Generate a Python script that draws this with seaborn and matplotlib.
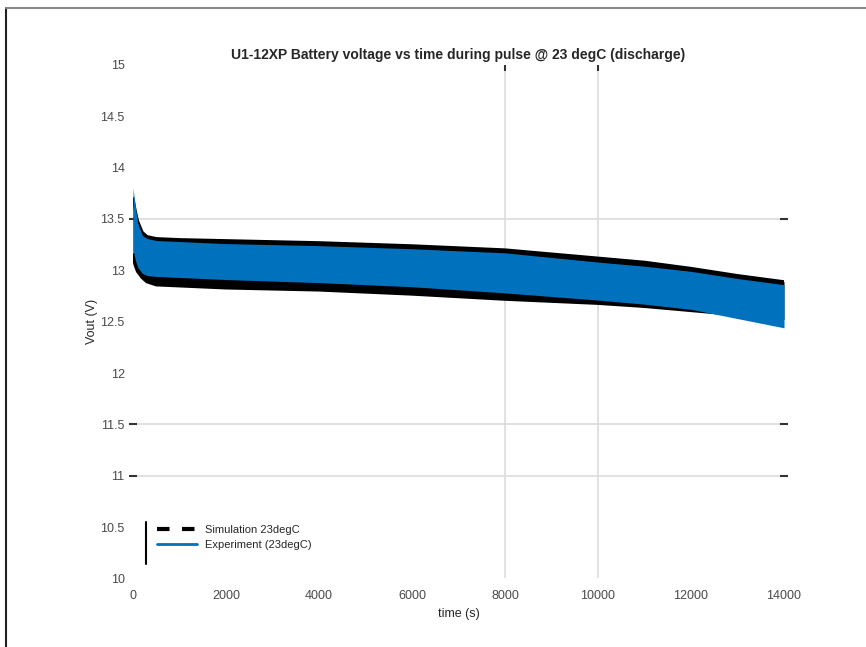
"""
Pulse discharge of the U1-12XP battery at 23 degC: simulation vs experiment.
The pulse trains are shown as filled bands between their upper and lower
voltage envelopes.
"""

import matplotlib

matplotlib.use('Agg')
import matplotlib.pyplot as plt
from matplotlib.lines import Line2D
import pandas as pd
import seaborn as sns

sns.set_theme(style='white')
plt.rcParams['font.family'] = ['Liberation Sans', 'DejaVu Sans']

# %% Data (envelopes)

time_s = [0, 50, 100, 200, 300, 500, 1000, 2000, 4000, 6000, 8000,
          10000, 11000, 12000, 13000, 14000]
exp_upper = [13.80, 13.62, 13.46, 13.34, 13.31, 13.29, 13.28, 13.26, 13.24,
             13.21, 13.17, 13.08, 13.04, 12.99, 12.92, 12.86]
exp_lower = [13.20, 13.10, 13.03, 12.97, 12.95, 12.94, 12.93, 12.91, 12.88,
             12.84, 12.78, 12.71, 12.67, 12.62, 12.53, 12.44]
sim_upper = [13.70, 13.58, 13.48, 13.37, 13.33, 13.31, 13.30, 13.29, 13.27,
             13.24, 13.20, 13.12, 13.08, 13.02, 12.95, 12.89]
sim_lower = [13.15, 13.05, 12.99, 12.93, 12.89, 12.86, 12.85, 12.83, 12.81,
             12.77, 12.72, 12.68, 12.65, 12.61, 12.57, 12.52]

x_ticks = [0, 2000, 4000, 6000, 8000, 10000, 12000, 14000]
y_ticks = [10, 10.5, 11, 11.5, 12, 12.5, 13, 13.5, 14, 14.5, 15]
x_grid = [8000, 10000]
y_grid = [11, 11.5, 13.5]

df = pd.DataFrame({'t': time_s, 'exp_hi': exp_upper, 'exp_lo': exp_lower,
                   'sim_hi': sim_upper, 'sim_lo': sim_lower})

BLUE = '#0072BD'

# %% Plot

fig = plt.figure(figsize=(8.66, 6.47), dpi=100)
ax = fig.add_axes([0.1536, 0.106, 0.7517, 0.7937])

for y in y_grid:
    ax.axhline(y, color='#dcdcdc', lw=1.2, zorder=0)
    ax.plot([x_ticks[0], x_ticks[-1]], [y, y], ls='', marker='_',
            ms=6, mew=1.5, color='#333333', zorder=1, clip_on=False)
for x in x_grid:
    ax.axvline(x, color='#dcdcdc', lw=1.2, zorder=0)
    ax.plot([x], [y_ticks[-1] - 0.03], ls='', marker='|',
            ms=5, mew=1.5, color='#333333', zorder=1, clip_on=False)

# simulation band (black), experiment band (blue) on top
ax.fill_between(df['t'], df['sim_lo'], df['sim_hi'], color='black', lw=0,
                zorder=2)
sns.lineplot(data=df, x='t', y='sim_hi', color='black', lw=2, ax=ax,
             zorder=2)
sns.lineplot(data=df, x='t', y='sim_lo', color='black', lw=2.5, ax=ax,
             zorder=2)
ax.fill_between(df['t'], df['exp_lo'], df['exp_hi'], color=BLUE, lw=0,
                zorder=3)

ax.set_xlim(0, 14000)
ax.set_ylim(10, 15)
ax.set_xticks(x_ticks)
ax.set_yticks(y_ticks)
ax.set_xticklabels([str(v) for v in x_ticks])
ax.set_yticklabels([f'{v:g}' for v in y_ticks])
ax.tick_params(length=0, labelsize=9, labelcolor='#4a4a4a')
ax.tick_params(axis='y', pad=6)
ax.tick_params(axis='x', pad=8)
for s in ax.spines.values():
    s.set_visible(False)

ax.set_xlabel('time (s)', fontsize=9, color='#262626', labelpad=5)
ax.set_ylabel('Vout (V)', fontsize=9, color='#262626', labelpad=2)
ax.set_title('U1-12XP Battery voltage vs time during pulse @ 23 degC '
             '(discharge)', fontsize=10, fontweight='bold', pad=4)

handles = [Line2D([], [], color='black', lw=3, ls=(0, (3, 3))),
           Line2D([], [], color=BLUE, lw=2)]
ax.legend(handles, ['Simulation 23degC', 'Experiment (23degC)'],
          loc='lower left', bbox_to_anchor=(0.037, 0.055), frameon=False,
          fontsize=8, handlelength=3.6, handletextpad=0.7, borderpad=0,
          borderaxespad=0, labelspacing=0.45)
ax.plot([0.02, 0.02], [0.028, 0.11], transform=ax.transAxes, color='black',
        lw=1.5, clip_on=False)

# figure frame (left and top edges of the screenshot)
fig.add_artist(Line2D([0.007, 0.007], [0, 0.9876], color='#222222', lw=1.5))
fig.add_artist(Line2D([0.007, 1], [0.9876, 0.9876], color='#888888', lw=1.5))

fig.savefig('out.png', dpi=100)
plt.close(fig)
print('Saved out.png')
